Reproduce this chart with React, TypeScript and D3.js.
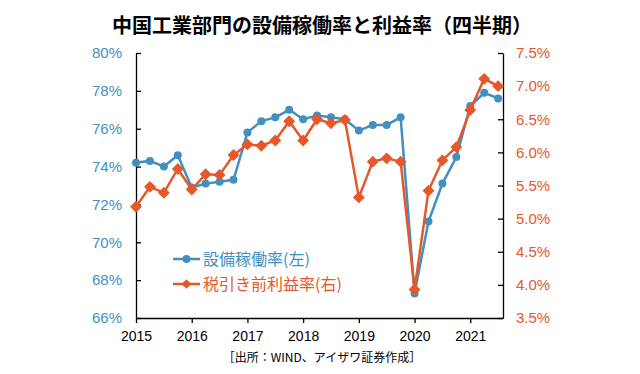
import React, { useEffect, useRef } from 'react';
import * as d3 from 'd3';

// quarterly data, 2015Q1 .. 2021Q3
const quarters: string[] = [
  '2015Q1', '2015Q2', '2015Q3', '2015Q4',
  '2016Q1', '2016Q2', '2016Q3', '2016Q4',
  '2017Q1', '2017Q2', '2017Q3', '2017Q4',
  '2018Q1', '2018Q2', '2018Q3', '2018Q4',
  '2019Q1', '2019Q2', '2019Q3', '2019Q4',
  '2020Q1', '2020Q2', '2020Q3', '2020Q4',
  '2021Q1', '2021Q2', '2021Q3',
];

// 設備稼働率 (left axis, %)
const utilization: number[] = [
  74.2, 74.3, 74.0, 74.6,
  72.9, 73.1, 73.2, 73.3,
  75.8, 76.4, 76.6, 77.0,
  76.5, 76.7, 76.6, 76.5,
  75.9, 76.2, 76.2, 76.6,
  67.3, 71.1, 73.1, 74.5,
  77.2, 77.9, 77.6,
];

// 税引き前利益率 (right axis, %)
const profitMargin: number[] = [
  5.18, 5.48, 5.39, 5.75,
  5.44, 5.67, 5.66, 5.96,
  6.12, 6.10, 6.18, 6.47,
  6.18, 6.50, 6.44, 6.49,
  5.32, 5.86, 5.91, 5.86,
  3.93, 5.42, 5.88, 6.08,
  6.64, 7.11, 7.00,
];

const yearLabels: string[] = ['2015', '2016', '2017', '2018', '2019', '2020', '2021'];
const leftTicks: number[] = [66, 68, 70, 72, 74, 76, 78, 80];
const rightTicks: number[] = [3.5, 4.0, 4.5, 5.0, 5.5, 6.0, 6.5, 7.0, 7.5];

const BLUE = '#4290c0';
const ORANGE = '#e4582a';
const FONT = '"Liberation Sans", Arial, sans-serif';
const JP_FONT = '"Noto Sans CJK JP", sans-serif';

const App: React.FC = () => {
  const svgRef = useRef<SVGSVGElement>(null);

  useEffect(() => {
    if (!svgRef.current) return;
    const svg = d3.select(svgRef.current);
    svg.selectAll('*').remove();

    const width = 640;
    const height = 374;
    const margin = { top: 53, right: 137, bottom: 56, left: 136 };
    const innerW = width - margin.left - margin.right;
    const innerH = height - margin.top - margin.bottom;

    svg.attr('width', width).attr('height', height);

    // title
    svg.append('text')
      .attr('x', 322)
      .attr('y', 33)
      .attr('text-anchor', 'middle')
      .attr('font-family', JP_FONT)
      .attr('font-size', '20px')
      .attr('font-weight', 'bold')
      .attr('fill', '#000')
      .text('中国工業部門の設備稼働率と利益率（四半期）');

    const g = svg.append('g')
      .attr('transform', `translate(${margin.left},${margin.top})`);

    const x = d3.scaleLinear().domain([0, 26.35]).range([0, innerW]);
    const yL = d3.scaleLinear().domain([66, 80]).range([innerH, 0]);
    const yR = d3.scaleLinear().domain([3.5, 7.5]).range([innerH, 0]);

    // x axis
    const xAxis = g.append('g')
      .attr('transform', `translate(0,${innerH})`)
      .call(d3.axisBottom(x)
        .tickValues(yearLabels.map((_, i) => i * 4))
        .tickFormat((_, i) => yearLabels[i])
        .tickSize(5)
        .tickSizeOuter(0));
    xAxis.select('.domain').attr('stroke', '#000').attr('stroke-width', 1.3);
    xAxis.selectAll('line').attr('stroke', '#000').attr('stroke-width', 1.3);
    xAxis.selectAll('text')
      .attr('font-family', FONT)
      .attr('font-size', '14px')
      .attr('fill', '#000')
      .attr('dy', '1.05em');

    // left axis
    const lAxis = g.append('g')
      .call(d3.axisLeft(yL)
        .tickValues(leftTicks)
        .tickFormat(d => `${d}%`)
        .tickSize(5)
        .tickSizeOuter(0));
    lAxis.select('.domain').attr('stroke', '#000').attr('stroke-width', 1.3);
    lAxis.selectAll('line').attr('stroke', '#000').attr('stroke-width', 1.3).attr('x2', 5);
    lAxis.selectAll('text')
      .attr('font-family', FONT)
      .attr('font-size', '15px')
      .attr('fill', BLUE)
      .attr('x', -14);

    // right axis
    const rAxis = g.append('g')
      .attr('transform', `translate(${innerW},0)`)
      .call(d3.axisRight(yR)
        .tickValues(rightTicks)
        .tickFormat(d => `${(d as number).toFixed(1)}%`)
        .tickSize(5)
        .tickSizeOuter(0));
    rAxis.select('.domain').attr('stroke', '#000').attr('stroke-width', 1.3);
    rAxis.selectAll('line').attr('stroke', '#000').attr('stroke-width', 1.3).attr('x2', -5);
    rAxis.selectAll('text')
      .attr('font-family', FONT)
      .attr('font-size', '15px')
      .attr('fill', ORANGE)
      .attr('x', 13);

    // lines
    const lineL = d3.line<number>().x((_, i) => x(i)).y(d => yL(d));
    const lineR = d3.line<number>().x((_, i) => x(i)).y(d => yR(d));

    g.append('path')
      .datum(utilization)
      .attr('d', lineL)
      .attr('fill', 'none')
      .attr('stroke', BLUE)
      .attr('stroke-width', 2.5);

    g.selectAll('.dotL')
      .data(utilization)
      .enter()
      .append('circle')
      .attr('class', 'dotL')
      .attr('cx', (_, i) => x(i))
      .attr('cy', d => yL(d))
      .attr('r', 4)
      .attr('fill', BLUE);

    g.append('path')
      .datum(profitMargin)
      .attr('d', lineR)
      .attr('fill', 'none')
      .attr('stroke', ORANGE)
      .attr('stroke-width', 2.5);

    const diamond = d3.symbol().type(d3.symbolDiamond2).size(90);
    g.selectAll('.dotR')
      .data(profitMargin)
      .enter()
      .append('path')
      .attr('class', 'dotR')
      .attr('d', diamond)
      .attr('transform', (d, i) => `translate(${x(i)},${yR(d)})`)
      .attr('fill', ORANGE);

    // legend
    const legend = svg.append('g');
    const items = [
      { label: '設備稼働率(左)', color: BLUE, y: 259, shape: 'circle' },
      { label: '税引き前利益率(右)', color: ORANGE, y: 284, shape: 'diamond' },
    ];
    items.forEach(it => {
      legend.append('line')
        .attr('x1', 173).attr('x2', 200)
        .attr('y1', it.y).attr('y2', it.y)
        .attr('stroke', it.color)
        .attr('stroke-width', 2.5);
      if (it.shape === 'circle') {
        legend.append('circle')
          .attr('cx', 186.5).attr('cy', it.y).attr('r', 4)
          .attr('fill', it.color);
      } else {
        legend.append('path')
          .attr('d', d3.symbol().type(d3.symbolDiamond2).size(60)())
          .attr('transform', `translate(186.5,${it.y})`)
          .attr('fill', it.color);
      }
      legend.append('text')
        .attr('x', 203)
        .attr('y', it.y + 6)
        .attr('font-family', JP_FONT)
        .attr('font-size', '16px')
        .attr('fill', it.color)
        .text(it.label);
    });

    // source note
    svg.append('text')
      .attr('x', 322)
      .attr('y', 362)
      .attr('text-anchor', 'middle')
      .attr('font-family', JP_FONT)
      .attr('font-size', '12px')
      .attr('fill', '#000')
      .text('［出所：WIND、アイザワ証券作成］');
  }, []);

  return (
    <div style={{ position: 'absolute', left: 0, top: 0 }}>
      <svg ref={svgRef} style={{ display: 'block' }} />
    </div>
  );
};

export default App;
